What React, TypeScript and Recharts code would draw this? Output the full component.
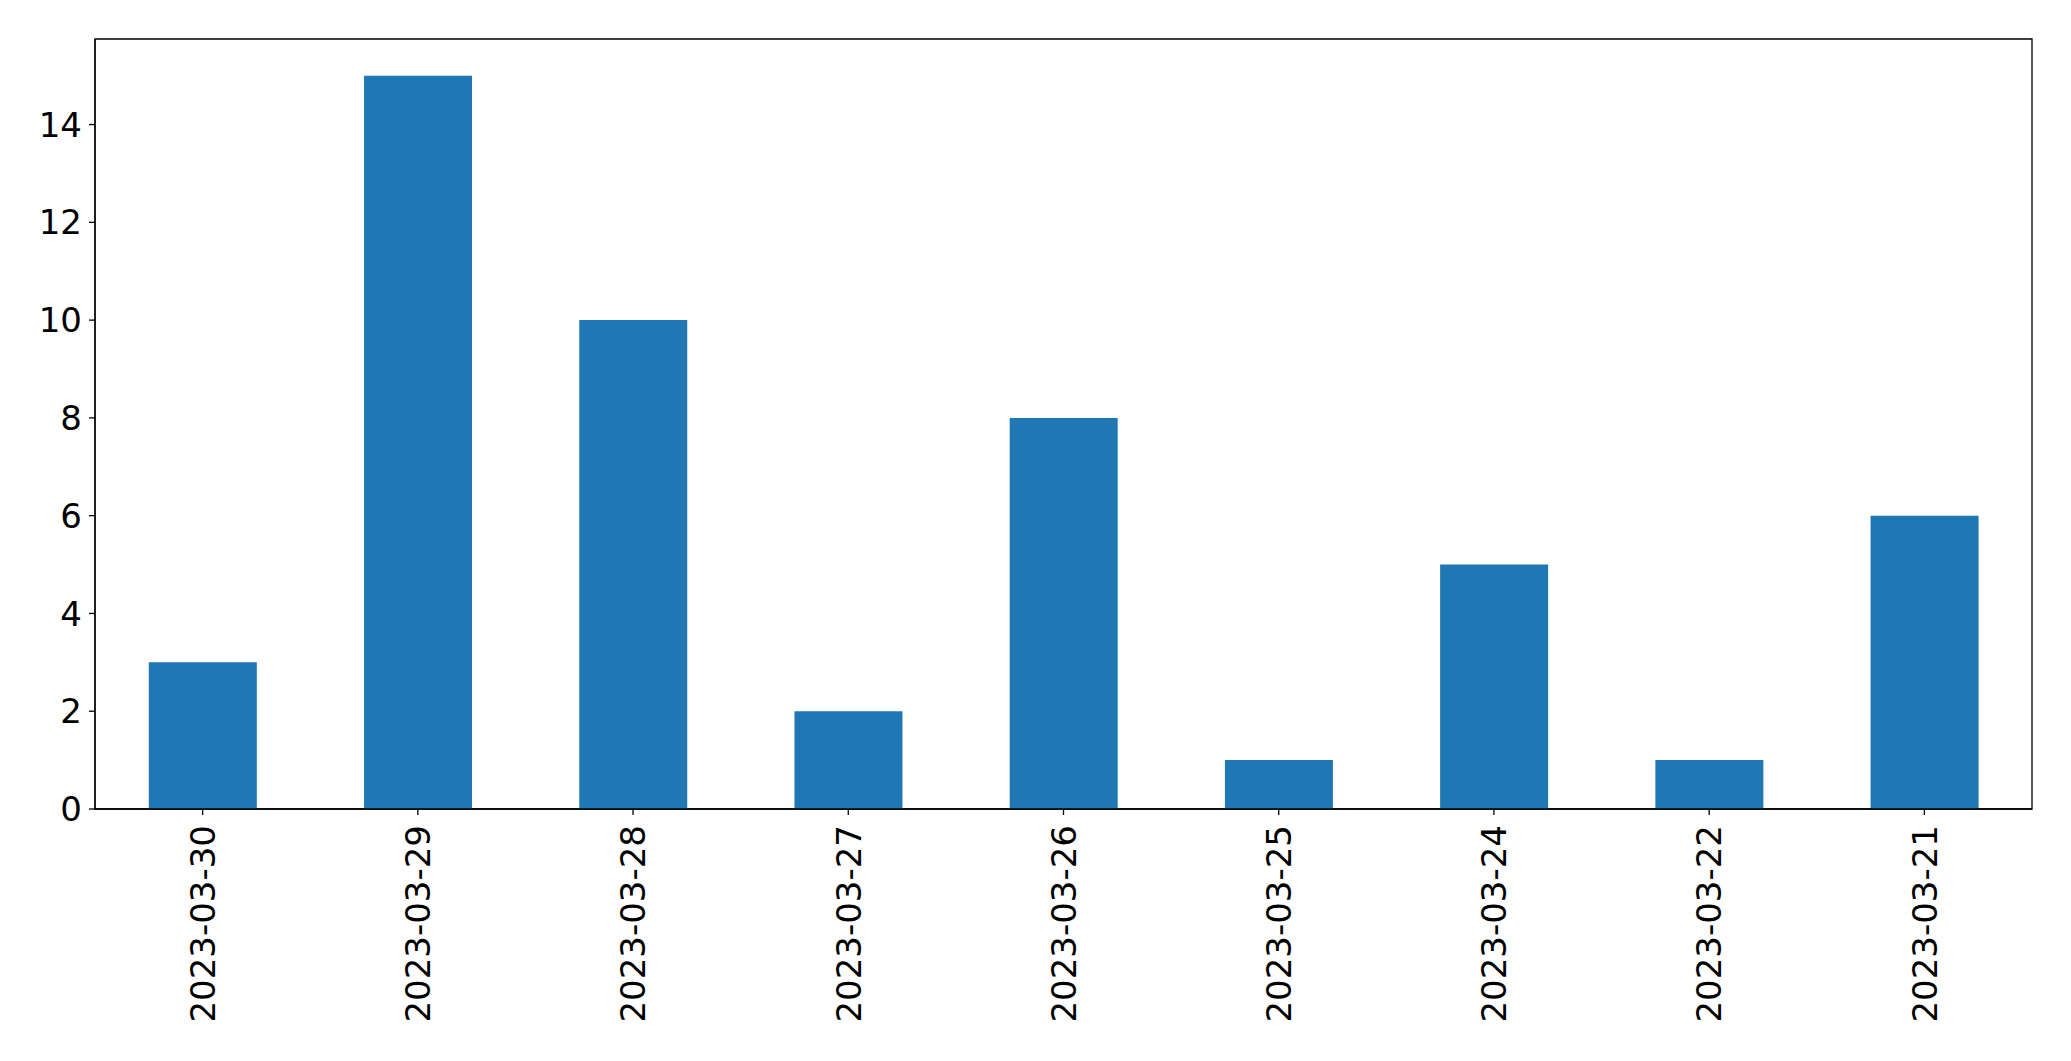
import { BarChart, Bar, XAxis, YAxis, ReferenceArea } from "recharts";

const dates = [
  "2023-03-30",
  "2023-03-29",
  "2023-03-28",
  "2023-03-27",
  "2023-03-26",
  "2023-03-25",
  "2023-03-24",
  "2023-03-22",
  "2023-03-21",
];
const counts = [3, 15, 10, 2, 8, 1, 5, 1, 6];
const yTicks = [0, 2, 4, 6, 8, 10, 12, 14];

const data = dates.map((d, i) => ({ date: d, count: counts[i] }));

const FONT = "'DejaVu Sans', sans-serif";
const FONT_SIZE = 34;
const Y_MAX = 15.75;

function DateTick(props: any) {
  const { x, y, payload } = props;
  return (
    <g transform={`translate(${x},${y})`}>
      <text
        transform="rotate(-90)"
        textAnchor="end"
        dy="0.36em"
        fill="#000"
        fontSize={FONT_SIZE}
        fontFamily={FONT}
      >
        {payload.value}
      </text>
    </g>
  );
}

export default function App() {
  return (
    <div style={{ position: "absolute", left: 0, top: 0, background: "#fff" }}>
      <BarChart
        width={2071}
        height={1061}
        data={data}
        margin={{ top: 39, right: 39, left: 0, bottom: 0 }}
        barCategoryGap="25%"
      >
        <XAxis
          dataKey="date"
          interval={0}
          height={252}
          tickSize={6}
          tickMargin={10}
          stroke="#000"
          axisLine={{ stroke: "#000", strokeWidth: 1.3 }}
          tickLine={{ stroke: "#000", strokeWidth: 1.3 }}
          tick={<DateTick />}
        />
        <YAxis
          domain={[0, Y_MAX]}
          ticks={yTicks}
          width={95}
          tickSize={6}
          tickMargin={7}
          axisLine={{ stroke: "#000", strokeWidth: 1.3 }}
          tickLine={{ stroke: "#000", strokeWidth: 1.3 }}
          tick={{ fill: "#000", fontSize: FONT_SIZE, fontFamily: FONT }}
          allowDataOverflow
        />
        <Bar dataKey="count" fill="#1f77b4" isAnimationActive={false} />
        <ReferenceArea
          y1={0}
          y2={Y_MAX}
          fill="none"
          fillOpacity={0}
          stroke="#000"
          strokeWidth={1.3}
          ifOverflow="visible"
        />
      </BarChart>
    </div>
  );
}
